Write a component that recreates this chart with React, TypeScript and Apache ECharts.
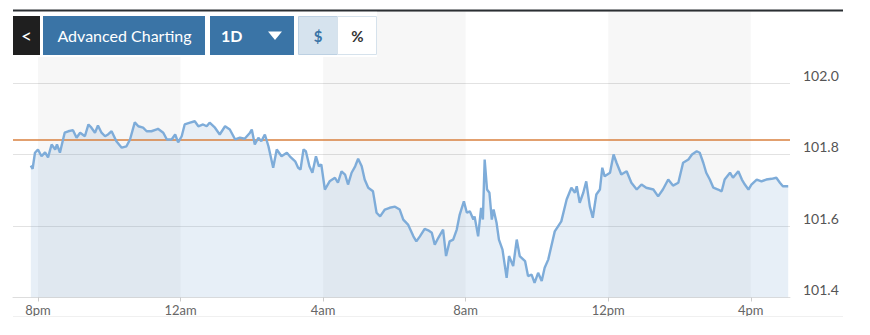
import React, { useEffect, useRef } from "react";
import * as echarts from "echarts";

// minutes since 8pm
const minutes = [
  -12, -9, -5, 0, 6, 12, 17, 23, 29, 32,
  37, 45, 51, 59, 65, 71, 79, 85, 90, 96,
  101, 107, 113, 118, 124, 132, 141, 149, 155, 163,
  169, 177, 183, 191, 200, 202, 211, 217, 225, 231,
  236, 242, 247, 256, 264, 270, 278, 284, 289, 298,
  306, 315, 323, 332, 340, 348, 357, 360, 365, 371,
  376, 382, 388, 396, 402, 410, 419, 424, 433, 438,
  442, 447, 451, 457, 462, 468, 473, 477, 483, 491,
  500, 505, 511, 517, 522, 528, 534, 539, 545, 550,
  556, 564, 570, 576, 584, 592, 601, 609, 615, 623,
  632, 637, 643, 651, 657, 663, 668, 674, 682, 687,
  693, 699, 705, 710, 717, 722, 727, 733, 735, 741,
  746, 749, 752, 756, 760, 764, 767, 772, 776, 782,
  789, 793, 800, 806, 811, 820, 825, 831, 836, 842,
  848, 853, 859, 870, 881, 890, 898, 904, 907, 912,
  918, 923, 929, 934, 940, 946, 950, 954, 963, 969,
  974, 982, 991, 999, 1008, 1016, 1024, 1036, 1044, 1052,
  1061, 1069, 1078, 1086, 1095, 1101, 1109, 1114, 1120, 1125,
  1131, 1137, 1145, 1151, 1156, 1165, 1170, 1179, 1185, 1190,
  1196, 1201, 1210, 1218, 1226, 1235, 1243, 1249, 1254, 1263,
];

const prices = [
  101.769, 101.76, 101.805, 101.814, 101.795, 101.806, 101.792, 101.828, 101.814, 101.828,
  101.805, 101.861, 101.865, 101.868, 101.847, 101.861, 101.851, 101.884, 101.875, 101.861,
  101.881, 101.861, 101.851, 101.856, 101.865, 101.837, 101.819, 101.823, 101.842, 101.89,
  101.879, 101.875, 101.865, 101.865, 101.87, 101.872, 101.861, 101.842, 101.842, 101.856,
  101.834, 101.851, 101.884, 101.889, 101.893, 101.879, 101.884, 101.879, 101.889, 101.875,
  101.856, 101.879, 101.87, 101.842, 101.847, 101.844, 101.861, 101.87, 101.828, 101.847,
  101.837, 101.856, 101.823, 101.763, 101.814, 101.795, 101.805, 101.795, 101.781, 101.763,
  101.758, 101.814, 101.809, 101.767, 101.749, 101.795, 101.767, 101.772, 101.702, 101.725,
  101.735, 101.721, 101.753, 101.744, 101.716, 101.749, 101.767, 101.788, 101.767, 101.73,
  101.707, 101.697, 101.637, 101.627, 101.646, 101.651, 101.654, 101.646, 101.618, 101.604,
  101.571, 101.557, 101.571, 101.592, 101.588, 101.581, 101.548, 101.567, 101.59, 101.516,
  101.557, 101.562, 101.59, 101.632, 101.669, 101.637, 101.641, 101.618, 101.627, 101.571,
  101.651, 101.618, 101.786, 101.702, 101.693, 101.618, 101.646, 101.609, 101.562, 101.534,
  101.455, 101.516, 101.488, 101.562, 101.516, 101.502, 101.46, 101.464, 101.441, 101.469,
  101.446, 101.483, 101.506, 101.585, 101.613, 101.674, 101.707, 101.693, 101.711, 101.665,
  101.693, 101.725, 101.655, 101.623, 101.688, 101.702, 101.763, 101.739, 101.749, 101.8,
  101.777, 101.744, 101.753, 101.721, 101.702, 101.716, 101.707, 101.702, 101.683, 101.702,
  101.73, 101.713, 101.721, 101.777, 101.786, 101.8, 101.809, 101.805, 101.777, 101.749,
  101.73, 101.707, 101.702, 101.697, 101.73, 101.749, 101.735, 101.753, 101.73, 101.716,
  101.702, 101.716, 101.73, 101.725, 101.73, 101.732, 101.735, 101.721, 101.711, 101.711,
];

const xTickValues = [0, 240, 480, 720, 960, 1200];
const xTickLabels = ["8pm", "12am", "4am", "8am", "12pm", "4pm"];
const shadedBands = [
  [0, 240],
  [480, 720],
  [960, 1200],
];
const referenceLevel = 101.845;
const yMin = 101.4;
const yMax = 102.2;
const yStep = 0.2;
const xMin = -42;
const xMax = 1266;

const BLUE = "#3a74a6";

export default function App() {
  const ref = useRef<HTMLDivElement>(null);

  useEffect(() => {
    if (!ref.current) return;
    const chart = echarts.init(ref.current, undefined, { renderer: "svg" });
    const data = minutes.map((m, i) => [m, prices[i]]);

    chart.setOption({
      animation: false,
      textStyle: { fontFamily: "Lato" },
      grid: { left: 13, right: 80, top: 11.5, bottom: 37.5, containLabel: false },
      xAxis: {
        type: "value",
        min: xMin,
        max: xMax,
        axisLine: { show: true, lineStyle: { color: "#dddddd", width: 1 } },
        axisTick: {
          show: true,
          customValues: xTickValues,
          length: 4,
          lineStyle: { color: "#cccccc" },
        },
        axisLabel: {
          customValues: xTickValues,
          color: "#666",
          fontSize: 13,
          fontFamily: "Lato",
          margin: 6,
          formatter: (v: number) => {
            const i = xTickValues.indexOf(v);
            return i >= 0 ? xTickLabels[i] : "";
          },
        },
        splitLine: { show: false },
      },
      yAxis: {
        type: "value",
        position: "right",
        min: yMin,
        max: yMax,
        interval: yStep,
        axisLine: { show: false },
        axisTick: { show: false },
        axisLabel: {
          margin: 13,
          color: "#555",
          fontSize: 14,
          fontFamily: "Lato",
          verticalAlign: "bottom",
          padding: [0, 0, 1, 0],
          showMaxLabel: false,
          formatter: (v: number) => v.toFixed(1),
        },
        splitLine: { show: true, lineStyle: { color: "#e2e2e2", width: 1 } },
      },
      series: [
        {
          type: "line",
          data,
          z: 2,
          showSymbol: false,
          symbol: "none",
          lineStyle: { width: 0, opacity: 0 },
          areaStyle: { color: "rgba(135,175,212,0.28)", origin: "start" },
          silent: true,
          markArea: {
            z: 1,
            silent: true,
            itemStyle: { color: "rgba(0,0,0,0.03)" },
            data: shadedBands.map((b) => [{ xAxis: b[0] }, { xAxis: b[1] }]),
          },
          markLine: {
            z: 3,
            silent: true,
            symbol: ["none", "none"],
            label: { show: false },
            lineStyle: { color: "#d8803f", width: 1.5, type: "solid" },
            data: [{ yAxis: referenceLevel }],
          },
        },
        {
          type: "line",
          data,
          z: 4,
          showSymbol: false,
          symbol: "none",
          silent: true,
          lineStyle: { color: "#7eacd9", width: 2.4 },
        },
      ],
      graphic: [
        { type: "rect", z: 100, shape: { x: 13, y: 11, width: 364, height: 46 }, style: { fill: "#ffffff" } },
        { type: "rect", z: 101, shape: { x: 13, y: 9.5, width: 830, height: 2 }, style: { fill: "#2b2f33" } },
        { type: "rect", z: 101, shape: { x: 13, y: 16, width: 27, height: 39 }, style: { fill: "#1f1f1f" } },
        {
          type: "text", z: 102, x: 26.5, y: 35,
          style: { text: "<", fill: "#ffffff", font: "19px Lato", align: "center", verticalAlign: "middle" },
        },
        { type: "rect", z: 101, shape: { x: 43, y: 16, width: 162, height: 39 }, style: { fill: BLUE } },
        {
          type: "text", z: 102, x: 124.5, y: 35.5,
          style: { text: "Advanced Charting", fill: "#ffffff", font: "16px Lato", align: "center", verticalAlign: "middle" },
        },
        { type: "rect", z: 101, shape: { x: 210, y: 16, width: 84, height: 39 }, style: { fill: BLUE } },
        {
          type: "text", z: 102, x: 221, y: 35.5,
          style: { text: "1D", fill: "#ffffff", font: "bold 16px Lato", align: "left", verticalAlign: "middle" },
        },
        {
          type: "polygon", z: 102,
          shape: { points: [[268, 31.5], [282, 31.5], [275, 40]] },
          style: { fill: "#ffffff" },
        },
        {
          type: "rect", z: 101, shape: { x: 298.5, y: 16.5, width: 39, height: 38 },
          style: { fill: "#d6e3ee", stroke: "#bcd0e2", lineWidth: 1 },
        },
        {
          type: "text", z: 102, x: 318, y: 35.5,
          style: { text: "$", fill: BLUE, font: "bold 15px Lato", align: "center", verticalAlign: "middle" },
        },
        {
          type: "rect", z: 101, shape: { x: 337.5, y: 16.5, width: 39, height: 38 },
          style: { fill: "#ffffff", stroke: "#d6e2ec", lineWidth: 1 },
        },
        {
          type: "text", z: 102, x: 357.5, y: 35.5,
          style: { text: "%", fill: "#333333", font: "bold 15px Lato", align: "center", verticalAlign: "middle" },
        },
        {
          type: "line", z: 100,
          shape: { x1: 13, y1: 316.5, x2: 843, y2: 316.5 },
          style: { stroke: "#f0f0f0", lineWidth: 1 },
        },
      ],
    });

    return () => chart.dispose();
  }, []);

  return (
    <div
      ref={ref}
      style={{ position: "fixed", left: 0, top: 0, width: 870, height: 335, background: "#ffffff" }}
    />
  );
}
